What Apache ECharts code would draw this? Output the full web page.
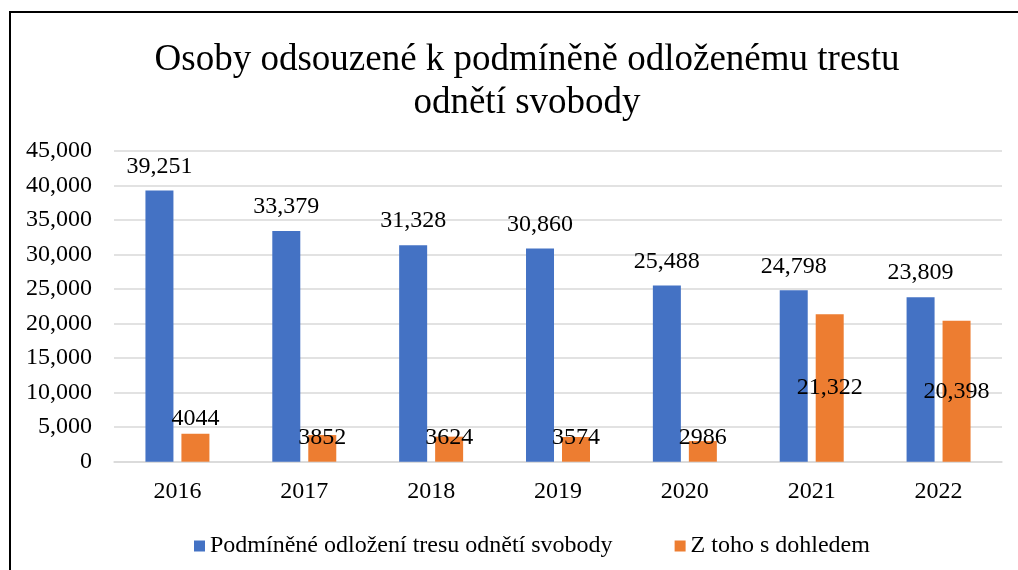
<!DOCTYPE html>
<html>
<head>
<meta charset="utf-8">
<script src="https://cdn.jsdelivr.net/npm/echarts@6/dist/echarts.min.js"></script>
<style>
  html, body { margin: 0; padding: 0; background: #fff; }
  #chart { width: 1018px; height: 570px; }
</style>
</head>
<body>
<div id="chart"></div>
<script>
// data
var years = ['2016', '2017', '2018', '2019', '2020', '2021', '2022'];
var podminene = [39251, 33379, 31328, 30860, 25488, 24798, 23809];
var sDohledem = [4044, 3852, 3624, 3574, 2986, 21322, 20398];
var seriesNames = ['Podmíněné odložení tresu odnětí svobody', 'Z toho s dohledem'];

var serif = '"Liberation Serif", "DejaVu Serif", serif';

function fmt(v) {
    return v >= 10000 ? v.toLocaleString('en-US') : String(v);
}

var chart = echarts.init(document.getElementById('chart'));

// orange labels sit differently depending on bar height
var orangeData = sDohledem.map(function (v, i) {
    var lbl;
    if (i === 0) {
        lbl = { position: 'top', distance: 3 };
    } else if (v < 10000) {
        lbl = { position: 'insideBottom', distance: 12 };
    } else {
        lbl = { position: 'inside' };
    }
    return { value: v, label: lbl };
});

var option = {
    backgroundColor: '#fff',
    animation: false,
    title: {
        text: 'Osoby odsouzené k podmíněně odloženému trestu\nodnětí svobody',
        left: 522,
        top: 34,
        textAlign: 'center',
        textStyle: {
            fontFamily: serif,
            fontSize: 37,
            fontWeight: 'normal',
            color: '#000',
            lineHeight: 43
        }
    },
    legend: {
        data: seriesNames,
        left: 189,
        top: 529,
        itemWidth: 11,
        itemHeight: 11,
        itemGap: 62,
        icon: 'rect',
        textStyle: { fontFamily: serif, fontSize: 24, color: '#000' }
    },
    grid: {
        left: 114,
        right: 16,
        top: 150.7,
        bottom: 108.3,
        containLabel: false
    },
    xAxis: {
        type: 'category',
        data: years,
        axisLine: { lineStyle: { color: '#d9d9d9', width: 1.5 } },
        axisTick: { show: false },
        axisLabel: { fontFamily: serif, fontSize: 24, color: '#000', margin: 18 }
    },
    yAxis: {
        type: 'value',
        min: 0,
        max: 45000,
        interval: 5000,
        axisLine: { show: false },
        axisTick: { show: false },
        splitLine: { lineStyle: { color: '#d9d9d9', width: 1.5 } },
        axisLabel: {
            fontFamily: serif,
            fontSize: 24,
            color: '#000',
            margin: 22,
            formatter: function (v) { return v.toLocaleString('en-US'); }
        }
    },
    series: [
        {
            name: seriesNames[0],
            type: 'bar',
            data: podminene,
            barWidth: 28,
            barGap: '28.5%',
            itemStyle: { color: '#4472C4' },
            label: {
                show: true,
                position: 'top',
                distance: 12,
                fontFamily: serif,
                fontSize: 24,
                color: '#000',
                formatter: function (p) { return fmt(p.value); }
            }
        },
        {
            name: seriesNames[1],
            type: 'bar',
            data: orangeData,
            barWidth: 28,
            itemStyle: { color: '#ED7D31' },
            label: {
                show: true,
                fontFamily: serif,
                fontSize: 24,
                color: '#000',
                formatter: function (p) { return fmt(p.value); }
            }
        }
    ],
    graphic: [
        {
            type: 'rect',
            shape: { x: 10, y: 12, width: 1100, height: 700 },
            style: { fill: 'none', stroke: '#000', lineWidth: 2 },
            silent: true
        }
    ]
};

chart.setOption(option);
</script>
</body>
</html>
